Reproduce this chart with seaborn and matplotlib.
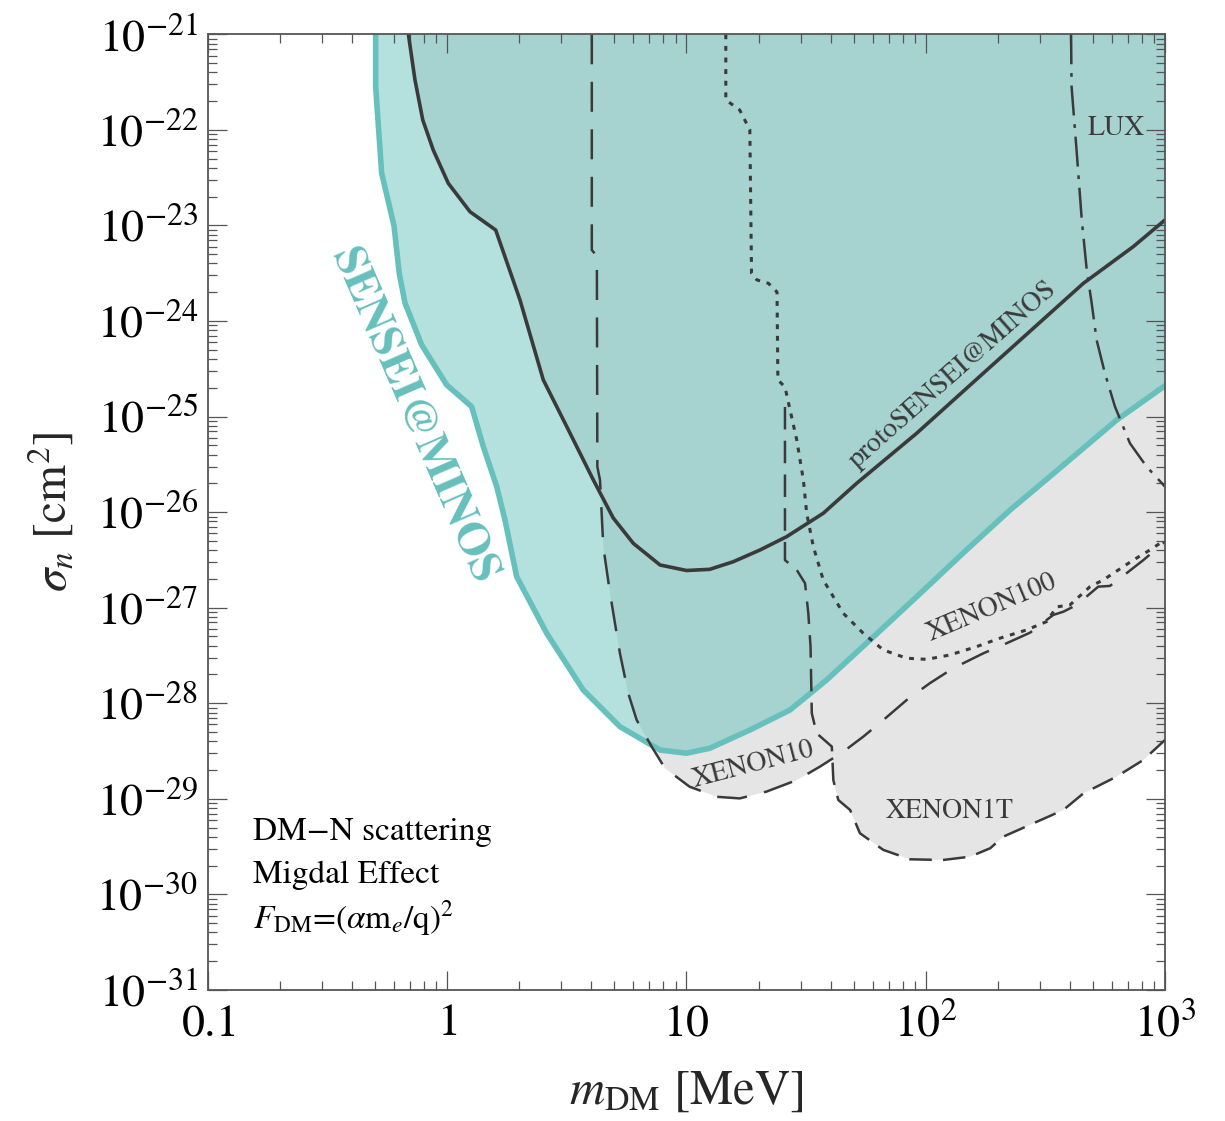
import numpy as np
import matplotlib
matplotlib.use("Agg")
import matplotlib.pyplot as plt
import seaborn as sns
from matplotlib.ticker import LogLocator, NullFormatter

# ---------------- data ----------------
sensei_minos_m = [0.502, 0.502, 0.532, 0.599, 0.630, 0.666, 0.782, 0.995, 1.265, 1.415,
                  1.61, 1.743, 1.951, 2.604, 3.70, 5.27, 7.75, 10.0, 12.5, 18.4,
                  27.1, 38.5, 58.5, 91.6, 148, 225, 330, 628, 1000]
sensei_minos_s = [1e-21, 2.83e-22, 3.52e-23, 9.93e-24, 3.15e-24, 1.54e-24, 5.61e-25, 2.14e-25,
                  1.27e-25, 4.84e-26, 1.85e-26, 8.28e-27, 2.11e-27, 5.40e-28, 1.38e-28,
                  5.69e-29, 3.24e-29, 3.00e-29, 3.38e-29, 5.25e-29, 8.51e-29, 1.75e-28,
                  4.59e-28, 1.30e-27, 4.02e-27, 1.05e-26, 2.35e-26, 9.20e-26, 2.10e-25]

proto_m = [0.688, 0.733, 0.790, 0.874, 1.01, 1.245, 1.594, 2.014, 2.52, 3.16, 4.08, 4.94,
           5.99, 7.75, 10.0, 12.5, 15.7, 20.3, 26.2, 37.3, 51.4, 91.6, 174, 456, 737, 1000]
proto_s = [1e-21, 3.33e-22, 1.27e-22, 6.15e-23, 2.76e-23, 1.39e-23, 8.95e-24, 1.66e-24,
           2.42e-25, 7.83e-26, 2.17e-26, 8.69e-27, 4.72e-27, 2.80e-27, 2.45e-27, 2.52e-27,
           3.03e-27, 4.02e-27, 5.53e-27, 9.73e-27, 2.00e-26, 6.68e-26, 2.84e-25, 2.48e-24,
           6.0e-24, 1.14e-23]

xenon10_m = [4.02, 4.02, 4.22, 4.24, 4.35, 4.49, 4.79, 5.27, 5.71, 6.19, 7.15, 8.13, 10.3,
             13.4, 16.7, 21.6, 28.9, 36.1, 45.2, 54.8, 66.5, 83.2, 104, 130, 174, 218, 273,
             341, 376, 428, 526, 589, 649, 812, 1000]
xenon10_s = [1e-21, 5.53e-24, 4.79e-24, 2.99e-26, 2.17e-26, 4.35e-27, 1.42e-27, 3.33e-28,
             1.27e-28, 6.68e-29, 3.52e-29, 2.09e-29, 1.34e-29, 1.05e-29, 1.01e-29, 1.19e-29,
             1.57e-29, 2.17e-29, 3.11e-29, 4.47e-29, 6.68e-29, 1.08e-28, 1.62e-28, 2.32e-28,
             3.33e-28, 4.25e-28, 5.48e-28, 8.39e-28, 9.08e-28, 1.07e-27, 1.66e-27, 1.69e-27,
             2.03e-27, 3.15e-27, 4.88e-27]

xenon100_m = [14.6, 14.6, 16.7, 18.4, 18.7, 19.7, 22.0, 23.9, 24.1, 25.8, 27.1, 28.9, 30.8,
              31.8, 33.9, 37.3, 45.2, 54.8, 66.5, 83.2, 101, 126, 163, 204, 264, 320, 353,
              401, 486, 552, 608, 737, 866, 1000]
xenon100_s = [1e-21, 2.06e-22, 1.61e-22, 9.98e-23, 3.15e-24, 2.69e-24, 2.48e-24, 2.01e-24,
              2.42e-25, 2.04e-25, 1.17e-25, 5.69e-26, 2.17e-26, 9.73e-27, 4.35e-27, 1.95e-27,
              8.75e-28, 5.40e-28, 3.61e-28, 2.96e-28, 2.88e-28, 3.20e-28, 3.91e-28, 4.79e-28,
              5.85e-28, 7.15e-28, 1.02e-27, 1.07e-27, 1.66e-27, 1.95e-27, 2.29e-27, 3.15e-27,
              4.02e-27, 5.12e-27]

xenon1t_m = [25.8, 25.8, 28.9, 31.3, 32.3, 33.0, 33.4, 35.0, 40.5, 41.1, 43.1, 48.3, 53.1,
             66.5, 86.0, 118, 153, 186, 211, 282, 376, 456, 628, 812, 1000]
xenon1t_s = [1.26e-25, 3.15e-27, 2.48e-27, 1.80e-27, 8.75e-28, 3.91e-28, 7.85e-29, 4.85e-29,
             3.52e-29, 1.57e-29, 9.73e-30, 7.64e-30, 4.36e-30, 2.92e-30, 2.33e-30, 2.29e-30,
             2.48e-30, 3.04e-30, 4.02e-30, 5.55e-30, 7.64e-30, 1.14e-29, 1.71e-29, 2.55e-29,
             4.13e-29]

lux_m = [405, 407, 428, 449, 471, 494, 518, 561, 618, 714, 838, 1000]
lux_s = [1e-21, 2.83e-22, 5.69e-23, 1.14e-23, 3.42e-24, 1.53e-24, 6.32e-25, 2.84e-25,
         1.27e-25, 5.25e-26, 2.99e-26, 1.85e-26]

x_tick_values = [0.1, 1, 10, 100, 1000]
x_tick_labels = [r"$0.1$", r"$1$", r"$10$", r"$10^{2}$", r"$10^{3}$"]
y_exponents = list(range(-31, -20))

X_LIM = (0.1, 1000)
Y_LIM = (1e-31, 1e-21)

# ---------------- style ----------------
sns.set_theme(style="white")
plt.rcParams["font.family"] = ["STIXGeneral", "Liberation Serif", "DejaVu Serif"]
plt.rcParams["mathtext.fontset"] = "stix"

TEAL_LINE = "#66c0bc"
TEAL_FILL = (92 / 255, 188 / 255, 183 / 255)
GRAY_FILL = "#e5e5e5"
DARK = "#3a3a3a"

fig = plt.figure(figsize=(12.25, 11.21), dpi=100)
ax = fig.add_axes([0.1698, 0.1169, 0.7812, 0.8525])
ax.set_xscale("log")
ax.set_yscale("log")
ax.set_xlim(*X_LIM)
ax.set_ylim(*Y_LIM)
ax.set_axisbelow(False)


def region(m, s):
    """polygon of the excluded region above a curve, closed via the top-right corner"""
    return np.r_[m, X_LIM[1]], np.r_[s, Y_LIM[1]]


# existing constraints (gray union)
for m, s in [(proto_m, proto_s), (xenon10_m, xenon10_s), (xenon100_m, xenon100_s),
             (xenon1t_m, xenon1t_s), (lux_m, lux_s)]:
    px, py = region(m, s)
    ax.fill(px, py, color=GRAY_FILL, lw=0, zorder=1)

# SENSEI@MINOS projected region
px, py = region(sensei_minos_m, sensei_minos_s)
ax.fill(px, py, color=TEAL_FILL, alpha=0.46, lw=0, zorder=2)

sns.lineplot(x=sensei_minos_m, y=sensei_minos_s, sort=False, estimator=None, ax=ax,
             color=TEAL_LINE, linewidth=4.0, zorder=3)
sns.lineplot(x=proto_m, y=proto_s, sort=False, estimator=None, ax=ax,
             color=DARK, linewidth=2.6, zorder=4)
sns.lineplot(x=xenon10_m, y=xenon10_s, sort=False, estimator=None, ax=ax,
             color=DARK, linewidth=1.8, linestyle=(0, (12, 7)), zorder=4)
sns.lineplot(x=xenon100_m, y=xenon100_s, sort=False, estimator=None, ax=ax,
             color=DARK, linewidth=2.2, linestyle=(0, (1.6, 2.2)), zorder=4)
sns.lineplot(x=xenon1t_m, y=xenon1t_s, sort=False, estimator=None, ax=ax,
             color=DARK, linewidth=1.8, linestyle=(0, (9, 4.5)), zorder=4)
sns.lineplot(x=lux_m, y=lux_s, sort=False, estimator=None, ax=ax,
             color=DARK, linewidth=1.8, linestyle=(0, (12, 3.5, 1.5, 3.5)), zorder=4)

# ---------------- axes / ticks ----------------
ax.set_xticks(x_tick_values)
ax.set_xticklabels(x_tick_labels)
ax.set_yticks([10.0 ** e for e in y_exponents])
ax.set_yticklabels([r"$10^{%d}$" % e for e in y_exponents])
ax.xaxis.set_minor_locator(LogLocator(base=10, subs=np.arange(2, 10), numticks=100))
ax.yaxis.set_minor_locator(LogLocator(base=10, subs=np.arange(2, 10), numticks=100))
ax.xaxis.set_minor_formatter(NullFormatter())
ax.yaxis.set_minor_formatter(NullFormatter())
ax.tick_params(which="both", direction="in", top=True, right=True, bottom=True, left=True,
               color="#555555", width=0.9)
ax.tick_params(which="major", length=13.5, labelsize=33, labelcolor="black")
ax.tick_params(axis="y", which="major", pad=7)
ax.tick_params(axis="x", which="major", pad=10)
ax.tick_params(which="minor", length=6.5)
for sp in ax.spines.values():
    sp.set_color("#555555")
    sp.set_linewidth(1.3)
    sp.set_zorder(6)

ax.set_xlabel(r"$m_{\rm DM}$ [MeV]", fontsize=35, labelpad=17)
ax.set_ylabel(r"$\sigma_n$ [cm$^2$]", fontsize=34, labelpad=14)

# ---------------- text labels ----------------
ax.text(0.2142, 0.6006, "SENSEI@MINOS", transform=ax.transAxes, rotation=-66.5,
        rotation_mode="anchor", ha="center", va="center", fontsize=33,
        fontweight="bold", color=TEAL_LINE, zorder=7)
ax.text(0.7788, 0.6435, "protoSENSEI@MINOS", transform=ax.transAxes, rotation=41.5,
        rotation_mode="anchor", ha="center", va="center", fontsize=20, color=DARK, zorder=7)
ax.text(0.8189, 0.3994, "XENON100", transform=ax.transAxes, rotation=23,
        rotation_mode="anchor", ha="center", va="center", fontsize=20, color=DARK, zorder=7)
ax.text(0.5698, 0.2354, "XENON10", transform=ax.transAxes, rotation=14.6,
        rotation_mode="anchor", ha="center", va="center", fontsize=20, color=DARK, zorder=7)
ax.text(0.7753, 0.1866, "XENON1T", transform=ax.transAxes, ha="center", va="center",
        fontsize=20, color=DARK, zorder=7)
ax.text(0.9488, 0.902, "LUX", transform=ax.transAxes, ha="center", va="center",
        fontsize=20, color=DARK, zorder=7)

ax.text(0.0473, 0.157, "DM\u2212N scattering", transform=ax.transAxes, ha="left",
        va="baseline", fontsize=24, color="black", zorder=7)
ax.text(0.0473, 0.1116, "Migdal Effect", transform=ax.transAxes, ha="left",
        va="baseline", fontsize=24, color="black", zorder=7)
ax.text(0.0473, 0.0649, r"$F_{\rm DM}$=($\alpha$m$_e$/q)$^2$", transform=ax.transAxes,
        ha="left", va="baseline", fontsize=24, color="black", zorder=7)

fig.savefig("out.png", dpi=100)
